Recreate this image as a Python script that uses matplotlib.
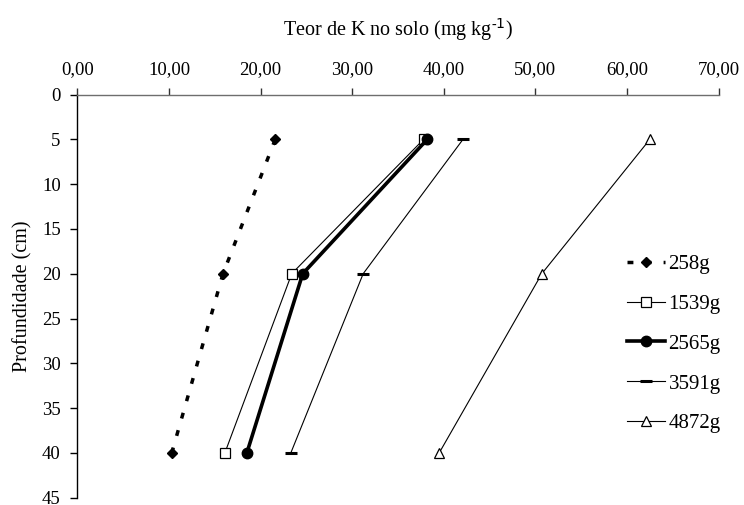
import matplotlib
matplotlib.use("Agg")
import matplotlib.pyplot as plt

plt.rcParams['font.family'] = ['Liberation Serif', 'DejaVu Serif']

depths = [5, 20, 40]
series_names = ["258g", "1539g", "2565g", "3591g", "4872g"]
k_258 = [21.6, 15.9, 10.3]
k_1539 = [37.8, 23.4, 16.1]
k_2565 = [38.2, 24.6, 18.5]
k_3591 = [42.1, 31.2, 23.3]
k_4872 = [62.5, 50.7, 39.5]
x_ticks = [0, 10, 20, 30, 40, 50, 60, 70]
y_ticks = [0, 5, 10, 15, 20, 25, 30, 35, 40, 45]

fig = plt.figure(figsize=(7.44, 5.05), dpi=100)
ax = fig.add_axes([77.4 / 744, 1 - 497.7 / 505, (718.6 - 77.4) / 744, (497.7 - 94.5) / 505])

ax.plot(k_258, depths, color='black', lw=2.5, dashes=(1.7, 3.5),
        marker='D', ms=5, mfc='black', mec='black', label=series_names[0])
ax.plot(k_1539, depths, color='black', lw=0.8,
        marker='s', ms=7, mfc='white', mec='black', mew=0.9, label=series_names[1])
ax.plot(k_2565, depths, color='black', lw=2.6,
        marker='o', ms=7.5, mfc='black', mec='black', label=series_names[2])
ax.plot(k_3591, depths, color='black', lw=0.8,
        marker='_', ms=8, mew=2.2, mec='black', label=series_names[3])
ax.plot(k_4872, depths, color='black', lw=0.8,
        marker='^', ms=7, mfc='white', mec='black', mew=0.9, label=series_names[4])

ax.set_xlim(0, 70)
ax.set_ylim(45, 0)
ax.set_xticks(x_ticks)
ax.set_xticklabels([f"{v:.2f}".replace('.', ',') for v in x_ticks])
ax.set_yticks(y_ticks)

ax.xaxis.tick_top()
ax.xaxis.set_label_position('top')
ax.spines['bottom'].set_visible(False)
ax.spines['right'].set_visible(False)
ax.spines['top'].set_color('#6e6e6e')
ax.spines['top'].set_linewidth(1.0)
ax.spines['left'].set_color('black')
ax.spines['left'].set_linewidth(1.0)
ax.tick_params(axis='x', direction='out', length=5, width=1, color='#333333',
               labelsize=13.5, pad=7)
ax.tick_params(axis='y', direction='out', length=5, width=1, color='black',
               labelsize=13.5, pad=7)

ax.set_xlabel("Teor de K no solo (mg kg$^{\\mathregular{\u2010}1}$)", fontsize=14.5, labelpad=18)
ax.set_ylabel("Profundidade (cm)", fontsize=14.5, labelpad=7)

leg = ax.legend(loc='upper left', bbox_to_anchor=(0.857, 0.603), frameon=False,
                fontsize=15, handlelength=1.85, handletextpad=0.15, labelspacing=0.97,
                borderaxespad=0, borderpad=0)

fig.savefig("out.png", dpi=100)
